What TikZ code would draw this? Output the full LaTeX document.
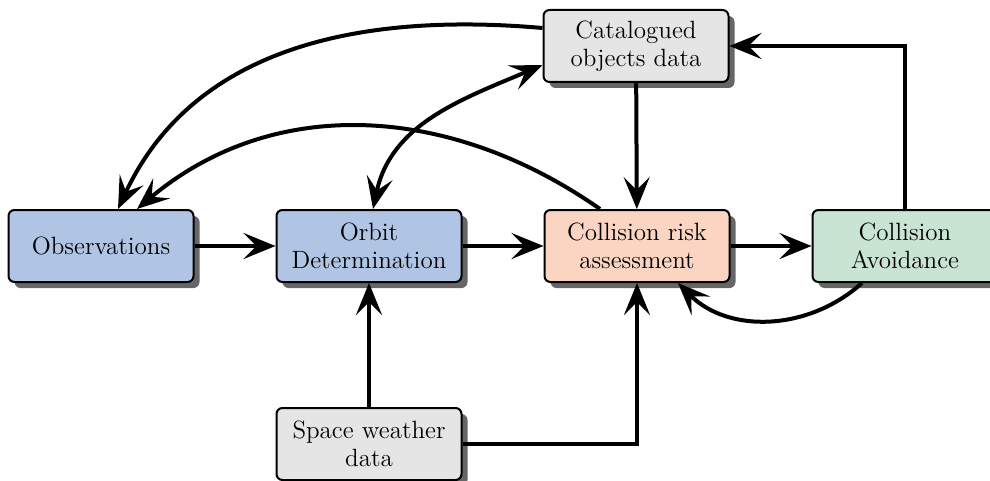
\documentclass[tikz,border=0pt]{standalone}
\usetikzlibrary{arrows.meta,shadows}
\definecolor{obsblue}{RGB}{176,196,228}
\definecolor{riskred}{RGB}{252,213,194}
\definecolor{avoidgreen}{RGB}{201,228,210}
\definecolor{datagray}{RGB}{229,229,229}
\tikzset{every picture/.style={line width=2pt}}
\tikzset{
  box/.style={draw, line width=1pt, rounded corners=3pt, minimum width=92.5pt,
    minimum height=36pt, align=center, font=\fontsize{12.5}{14}\selectfont,
    drop shadow={shadow xshift=3pt, shadow yshift=-3pt, fill=black!60, opacity=1}},
  arr/.style={-{Stealth[length=16pt,width=13pt,inset=6.5pt]}},
  arrboth/.style={{Stealth[length=16pt,width=13pt,inset=6.5pt]}-{Stealth[length=16pt,width=13pt,inset=6.5pt]}},
}

\begin{document}
\begin{tikzpicture}[x=0.5pt,y=0.5pt,yscale=-1]
\useasboundingbox (0,0) rectangle (990,481);

% Boxes
\node[box, fill=obsblue] (obs) at (101,246) {Observations};
\node[box, fill=obsblue] (orbit) at (369,246) {Orbit\\Determination};
\node[box, fill=riskred] (risk) at (637,246) {Collision risk\\assessment};
\node[box, fill=avoidgreen] (avoid) at (905,246) {Collision\\Avoidance};
\node[box, fill=datagray] (cat) at (636,46) {Catalogued\\objects data};
\node[box, fill=datagray] (weather) at (369,444) {Space weather\\data};

% main chain
\draw[arr] (obs) -- (orbit);
\draw[arr] (orbit) -- (risk);
\draw[arr] (risk) -- (avoid);
\draw[arr] (cat) -- (risk);
\draw[arr] (weather) -- (orbit);
\draw[arr] (weather) -| (risk);
\draw[arr] (avoid.north) |- (cat);

% feedback curves (angles and shifts mirrored by yscale=-1)
\draw[arr] ([yshift=-9pt]cat.west) to[out=185,in=-65] ([xshift=8.5pt]obs.north);
\draw[arr] ([xshift=-18.5pt]risk.north) to[out=-145,in=-40] ([xshift=18pt]obs.north);
\draw[arrboth] ([xshift=2pt]orbit.north) to[out=-78,in=157] ([yshift=9.5pt]cat.west);
\draw[arr] ([xshift=-21.5pt]avoid.south) to[out=138,in=45] ([xshift=20.5pt]risk.south);

\end{tikzpicture}
\end{document}
